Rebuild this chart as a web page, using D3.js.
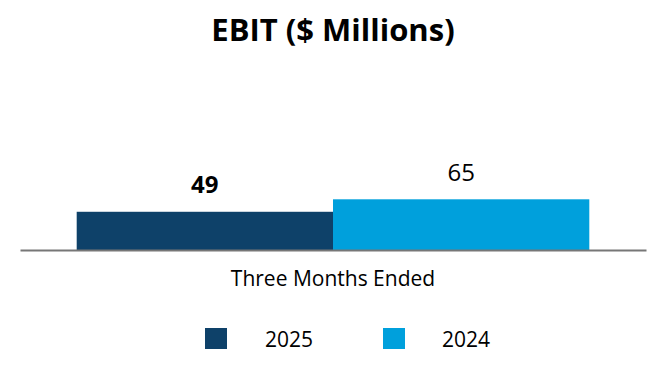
<!DOCTYPE html>
<html><head><meta charset="utf-8">
<script src="https://cdn.jsdelivr.net/npm/d3@7"></script>
<style>body{margin:0;background:#fff}svg{display:block}text{font-family:"Open Sans",sans-serif}</style>
</head><body>
<svg id="c" width="666" height="380"></svg>
<script>
const categories = ["Three Months Ended"];
const seriesNames = ["2025", "2024"];
const values2025 = [49];
const values2024 = [65];
const colors = ["#0e4169", "#00a0dc"];
const labelWeights = ["bold", "normal"];
const title = "EBIT ($ Millions)";

const svg = d3.select("#c");
const W = 666;
const baseY = 250, topY = 94;
const y = d3.scaleLinear().domain([0, 200]).range([baseY, topY]);
const x0 = d3.scaleBand().domain(categories).range([20, 646]).paddingInner(0).paddingOuter(0.1106);
const x1 = d3.scaleBand().domain(seriesNames).range([0, x0.bandwidth()]).padding(0);

svg.append("text").attr("x", W/2).attr("y", 41).attr("text-anchor", "middle")
  .attr("font-size", 31).attr("font-weight", "bold").attr("fill", "#000").text(title);

const seriesVals = [values2025, values2024];
categories.forEach((c, ci) => {
  seriesNames.forEach((s, si) => {
    const v = seriesVals[si][ci];
    const bx = x0(c) + x1(s);
    svg.append("rect").attr("x", bx).attr("y", y(v)).attr("width", x1.bandwidth())
      .attr("height", y(0) - y(v)).attr("fill", colors[si]);
    svg.append("text").attr("x", bx + x1.bandwidth()/2).attr("y", y(v) - 18.5)
      .attr("text-anchor", "middle").attr("font-size", 24).attr("font-weight", labelWeights[si])
      .attr("fill", "#000").text(v);
  });
});

const xAxis = svg.append("g").attr("transform", `translate(0,${baseY})`)
  .call(d3.axisBottom(x0).tickSize(0).tickPadding(0));
xAxis.select(".domain").attr("stroke", "#777").attr("stroke-width", 2);
xAxis.selectAll("text").attr("font-size", 21).attr("fill", "#000")
  .attr("dy", null).attr("y", 36).attr("font-family", "'Open Sans',sans-serif");

const legX = [205, 383];
const legTextX = [289, 466];
seriesNames.forEach((s, i) => {
  svg.append("rect").attr("x", legX[i]).attr("y", 328).attr("width", 22).attr("height", 21).attr("fill", colors[i]);
  svg.append("text").attr("x", legTextX[i]).attr("y", 347).attr("text-anchor", "middle")
    .attr("font-size", 21).attr("fill", "#000").text(s);
});
</script>
</body></html>
